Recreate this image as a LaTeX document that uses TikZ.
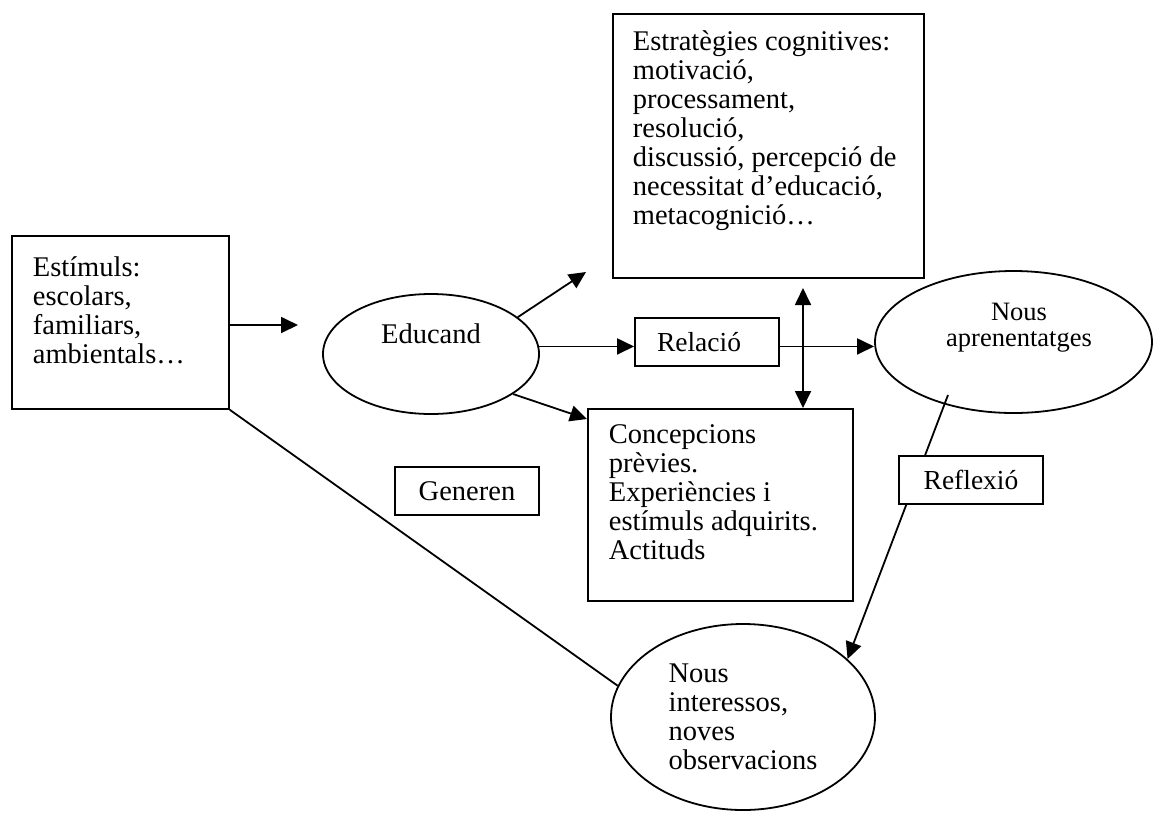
\documentclass[tikz,border=0pt]{standalone}
\usepackage{fontspec}
\setmainfont{Liberation Serif}
\usetikzlibrary{arrows.meta,shapes.geometric,calc}

% Fixed-size box content: width, height, first baseline from top, left inset, lines
\newcommand\boxedlines[5]{%
  \parbox[c][#2][t]{#1}{\raggedright\leftskip=#4\relax
    \vspace*{\dimexpr #3-\ht\strutbox\relax}\strut #5}}

\begin{document}
\begin{tikzpicture}[x=1pt, y=-1pt, line width=1.8pt,
  font={\fontsize{28.5}{29}\selectfont},
  box/.style={draw, rectangle, inner sep=0pt, fill=white},
  tag/.style={box, minimum width=144pt, minimum height=48pt},
  oval/.style={draw, ellipse, inner sep=0pt},
  arr/.style={-{Triangle[length=17pt,width=16pt]}},
  darr/.style={{Triangle[length=17pt,width=16pt]}-{Triangle[length=17pt,width=16pt]}}]

\useasboundingbox (0,0) rectangle (1154,812);

% boxes
\node[box, anchor=north west] (est) at (11,235)
  {\boxedlines{217pt}{173pt}{41pt}{21pt}{Estímuls:\\escolars,\\familiars,\\ambientals…}};
\node[box, anchor=north west] (str) at (612,13)
  {\boxedlines{311pt}{264pt}{37pt}{20pt}{Estratègies cognitives:\\motivació,\\processament,\\resolució,\\discussió, percepció de\\necessitat d’educació,\\metacognició…}};
\node[box, anchor=north west] (con) at (587,408)
  {\boxedlines{265pt}{192pt}{35pt}{21pt}{Concepcions\\prèvies.\\Experiències i\\estímuls adquirits.\\Actituds}};
\node[tag, font={\fontsize{27.5}{28}\selectfont}] (rel) at (707,342) {Relació\hspace*{16pt}};
\node[tag] (gen) at (467,491) {Generen};

% ellipses
\node[oval, minimum width=216pt, minimum height=120pt,
  label={[yshift=20pt]center:Educand}] (ed) at (431,354) {};
\node[oval, minimum width=277pt, minimum height=142pt,
  label={[xshift=5.5pt, yshift=14pt, align=center, font={\fontsize{26.5}{26}\selectfont}]center:Nous\\aprenentatges}] (na) at (1013.5,342) {};
\node[oval, minimum width=264pt, minimum height=186pt, align=left] (ni) at (743,717)
  {Nous\\interessos,\\noves\\observacions};

% free ends
\coordinate (a1) at (298,325);
\coordinate (a2) at (586,272);
\coordinate (d1) at (803,288);
\coordinate (r1) at (948,395);

% connectors
\draw[arr] (est.east |- a1) -- (a1);
\draw[arr] (ed.23) -- (a2);
\draw[arr] (ed.4) -- (ed.4 -| rel.west);
\draw[arr] (ed.-26) -- ($(con.north west)+(0,11)$);
\draw[arr] (ed.4 -| rel.east) -- (ed.4 -| na.west);
\draw[darr] (d1) -- (d1 |- con.north);
\draw (est.south east) -- (ni.166);
\draw[arr] (r1) -- (ni.29);

\node[tag, font={\fontsize{27.5}{28}\selectfont}] (ref) at (971,480) {Reflexió};
\end{tikzpicture}
\end{document}
